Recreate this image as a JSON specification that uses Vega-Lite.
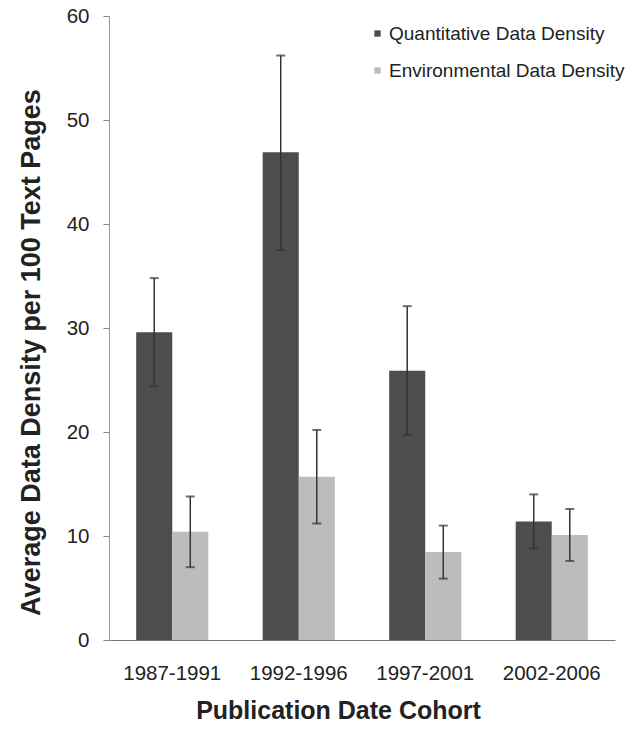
{
  "$schema": "https://vega.github.io/schema/vega-lite/v6.json",
  "width": 506,
  "height": 624,
  "autosize": "none",
  "padding": {"left": 109, "top": 16, "right": 24, "bottom": 96},
  "background": "white",
  "config": {
    "view": {"stroke": null},
    "font": "Liberation Sans"
  },
  "data": {
    "values": [
      {"cohort": "1987-1991", "series": "Quantitative Data Density", "value": 29.6, "lo": 24.4, "hi": 34.8},
      {"cohort": "1987-1991", "series": "Environmental Data Density", "value": 10.4, "lo": 7.0, "hi": 13.8},
      {"cohort": "1992-1996", "series": "Quantitative Data Density", "value": 46.9, "lo": 37.5, "hi": 56.2},
      {"cohort": "1992-1996", "series": "Environmental Data Density", "value": 15.7, "lo": 11.2, "hi": 20.2},
      {"cohort": "1997-2001", "series": "Quantitative Data Density", "value": 25.9, "lo": 19.7, "hi": 32.1},
      {"cohort": "1997-2001", "series": "Environmental Data Density", "value": 8.45, "lo": 5.9, "hi": 11.0},
      {"cohort": "2002-2006", "series": "Quantitative Data Density", "value": 11.4, "lo": 8.8, "hi": 14.0},
      {"cohort": "2002-2006", "series": "Environmental Data Density", "value": 10.1, "lo": 7.6, "hi": 12.6}
    ]
  },
  "encoding": {
    "x": {
      "field": "cohort",
      "type": "nominal",
      "scale": {"paddingInner": 0.43, "paddingOuter": 0.215},
      "axis": {
        "title": "Publication Date Cohort",
        "titleFont": "Liberation Sans",
        "titleFontSize": 25,
        "titleFontWeight": "bold",
        "titleColor": "#222",
        "titleX": 229,
        "titleY": 58,
        "labelAngle": 0,
        "labelFontSize": 20.5,
        "labelColor": "#222",
        "labelPadding": 23,
        "ticks": false,
        "domainColor": "#777",
        "domainWidth": 1
      }
    },
    "xOffset": {
      "field": "series",
      "type": "nominal",
      "sort": ["Quantitative Data Density", "Environmental Data Density"]
    }
  },
  "layer": [
    {
      "mark": {"type": "bar"},
      "encoding": {
        "y": {
          "field": "value",
          "type": "quantitative",
          "scale": {"domain": [0, 60], "nice": false},
          "axis": {
            "title": "Average Data Density per 100 Text Pages",
            "titleFont": "Liberation Sans",
            "titleFontSize": 27,
            "titleFontWeight": "bold",
            "titleColor": "#222",
            "titleX": -64,
            "titleY": 336,
            "values": [0, 10, 20, 30, 40, 50, 60],
            "grid": false,
            "labelFontSize": 20.5,
            "labelColor": "#222",
            "labelPadding": 14,
            "tickSize": 6,
            "tickColor": "#888",
            "domainColor": "#999",
            "domainWidth": 1
          }
        },
        "color": {
          "field": "series",
          "type": "nominal",
          "sort": ["Quantitative Data Density", "Environmental Data Density"],
          "scale": {"range": ["#4d4d4d", "#bcbcbc"]},
          "legend": {
            "title": null,
            "orient": "none",
            "legendX": 259,
            "legendY": 8,
            "symbolType": "square",
            "symbolSize": 40,
            "symbolStrokeWidth": 0,
            "labelFontSize": 19,
            "labelColor": "#222",
            "labelOffset": 2,
            "labelLimit": 0,
            "rowPadding": 17
          }
        }
      }
    },
    {
      "mark": {"type": "rule", "color": "#333", "strokeWidth": 1.5},
      "encoding": {
        "y": {"field": "lo", "type": "quantitative"},
        "y2": {"field": "hi"}
      }
    },
    {
      "mark": {"type": "tick", "color": "#333", "thickness": 2, "size": 9, "orient": "horizontal"},
      "encoding": {
        "y": {"field": "hi", "type": "quantitative"}
      }
    },
    {
      "mark": {"type": "tick", "color": "#333", "thickness": 2, "size": 9, "orient": "horizontal"},
      "encoding": {
        "y": {"field": "lo", "type": "quantitative"}
      }
    }
  ]
}
